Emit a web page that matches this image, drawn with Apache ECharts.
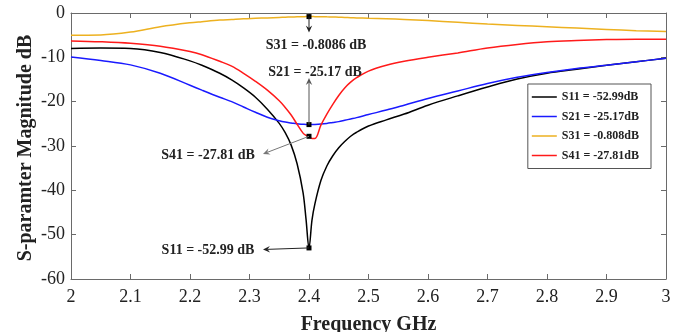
<!DOCTYPE html>
<html>
<head>
<meta charset="utf-8">
<script src="https://cdn.jsdelivr.net/npm/echarts@6/dist/echarts.min.js"></script>
<style>
html,body{margin:0;padding:0;background:#fff;}
#c{width:678px;height:332px;}
</style>
</head>
<body>
<div id="c"></div>
<script>
// ---- data ----
var freq = [2.00, 2.05, 2.10, 2.15, 2.20, 2.22, 2.25, 2.27, 2.29, 2.31, 2.33, 2.35, 2.36, 2.37, 2.38, 2.39, 2.395, 2.40, 2.405, 2.41, 2.42, 2.43, 2.44, 2.45, 2.46, 2.47, 2.48, 2.50, 2.53, 2.56, 2.60, 2.65, 2.70, 2.75, 2.80, 2.85, 2.90, 2.95, 3.00];
var s11 = [-8.0, -7.9, -8.0, -8.9, -10.8, -11.8, -13.6, -15.1, -16.9, -19.0, -21.7, -24.9, -27.0, -29.8, -34.0, -40.5, -46.5, -52.99, -46.7, -43.0, -37.8, -34.5, -32.2, -30.4, -29.0, -27.8, -26.9, -25.5, -24.1, -22.8, -20.8, -18.7, -16.7, -14.9, -13.6, -12.7, -11.8, -11.0, -10.2];
var s21 = [-9.9, -10.7, -11.7, -13.6, -16.3, -17.4, -19.0, -20.0, -21.2, -22.4, -23.5, -24.3, -24.6, -24.8, -25.0, -25.1, -25.15, -25.17, -25.17, -25.15, -25.05, -24.9, -24.7, -24.5, -24.2, -23.9, -23.6, -22.9, -21.9, -20.8, -19.3, -17.6, -15.9, -14.5, -13.4, -12.5, -11.8, -11.0, -10.2];
var s31 = [-5.0, -4.95, -4.3, -3.1, -2.2, -1.95, -1.6, -1.45, -1.3, -1.2, -1.1, -1.0, -0.95, -0.9, -0.86, -0.83, -0.815, -0.8086, -0.815, -0.82, -0.84, -0.87, -0.9, -0.95, -1.0, -1.05, -1.1, -1.2, -1.3, -1.45, -1.7, -2.1, -2.5, -2.8, -3.1, -3.4, -3.7, -4.0, -4.2];
var s41 = [-6.3, -6.5, -6.85, -7.5, -8.7, -9.4, -10.9, -12.0, -13.6, -15.4, -17.4, -19.8, -21.3, -23.0, -25.1, -27.1, -27.6, -27.81, -28.3, -28.3, -25.3, -22.8, -20.6, -18.6, -16.9, -15.6, -14.6, -13.1, -11.8, -10.9, -10.0, -9.0, -7.9, -7.1, -6.5, -6.2, -6.0, -5.9, -5.9];
var seriesNames = ['S11 = -52.99dB', 'S21 = -25.17dB', 'S31 = -0.808dB', 'S41 = -27.81dB'];
var xTicks = [2, 2.1, 2.2, 2.3, 2.4, 2.5, 2.6, 2.7, 2.8, 2.9, 3];
var yTicks = [-60, -50, -40, -30, -20, -10, 0];
var markFreq = 2.4;
var markVals = [-52.99, -25.17, -0.8086, -27.81];
var markTexts = ['S11 = -52.99 dB', 'S21 = -25.17 dB', 'S31 = -0.8086 dB', 'S41 = -27.81 dB'];
var xTitle = 'Frequency GHz';
var yTitle = 'S-paramter Magnitude dB';

var colors = ['#000000', '#1a1aff', '#EDB120', '#ff1a1a'];
var vals = [s11, s21, s31, s41];
var FONT = 'Liberation Serif';

function pairs(v) { return freq.map(function (f, i) { return [f, v[i]]; }); }

var chart = echarts.init(document.getElementById('c'));
var axisCol = '#6a6a6a';
function xAx(pos, labels) {
  return {
    type: 'value', position: pos, min: xTicks[0], max: xTicks[xTicks.length - 1], interval: 0.1,
    axisLine: { show: true, onZero: false, lineStyle: { color: axisCol, width: 1 } },
    axisTick: { show: true, inside: true, length: 5, lineStyle: { color: axisCol } },
    axisLabel: { show: labels, color: '#222', fontFamily: FONT, fontSize: 18, margin: 9,
      formatter: function (v) { return String(Math.round(v * 10) / 10); } },
    splitLine: { show: false },
    name: labels ? xTitle : '', nameLocation: 'middle', nameGap: 36,
    nameTextStyle: { fontFamily: FONT, fontSize: 20, fontWeight: 'bold', color: '#222' }
  };
}
function yAx(pos, labels) {
  return {
    type: 'value', position: pos, min: yTicks[0], max: yTicks[yTicks.length - 1], interval: 10,
    axisLine: { show: true, onZero: false, lineStyle: { color: axisCol, width: 1 } },
    axisTick: { show: true, inside: true, length: 5, lineStyle: { color: axisCol } },
    axisLabel: { show: labels, color: '#222', fontFamily: FONT, fontSize: 18, margin: 6 },
    splitLine: { show: false }
  };
}

var series = vals.map(function (v, i) {
  return {
    name: seriesNames[i], type: 'line', data: pairs(v), showSymbol: false, smooth: 0.35,
    lineStyle: { color: colors[i], width: 1.5 }, itemStyle: { color: colors[i] },
    xAxisIndex: 0, yAxisIndex: 0, animation: false,
    markPoint: {
      symbol: 'rect', symbolSize: 5, silent: true, animation: false,
      itemStyle: { color: '#000' }, label: { show: false },
      data: [{ coord: [markFreq, markVals[i]] }]
    }
  };
});

chart.setOption({
  animation: false,
  grid: { left: 71, right: 12, top: 13, bottom: 53, containLabel: false, outerBoundsMode: 'none' },
  xAxis: [xAx('bottom', true), xAx('top', false)],
  yAxis: [yAx('left', true), yAx('right', false)],
  legend: {
    orient: 'vertical', right: 27, top: 84,
    backgroundColor: '#fff', borderColor: '#555', borderWidth: 1,
    padding: [7, 12, 7, 4], itemGap: 7.5, itemWidth: 25, itemHeight: 12,
    textStyle: { fontFamily: FONT, fontSize: 12, fontWeight: 'bold', color: '#222' },
    data: seriesNames.map(function (n) { return { name: n, icon: 'path://M0,0 L25,0 L25,1.5 L0,1.5 Z' }; })
  },
  series: series
});

// annotations: arrows from the marked points to the text
function arrow(p0, p1, col) {
  var dx = p1[0] - p0[0], dy = p1[1] - p0[1], L = Math.sqrt(dx * dx + dy * dy);
  var ux = dx / L, uy = dy / L, nx = -uy, ny = ux;
  var hl = 7, hw = 3.2;
  var back = [p1[0] - (hl - 2.5) * ux, p1[1] - (hl - 2.5) * uy];
  return [
    { type: 'line', silent: true, z: 50, shape: { x1: p0[0], y1: p0[1], x2: back[0], y2: back[1] }, style: { stroke: col, lineWidth: 1 } },
    { type: 'polygon', silent: true, z: 50, shape: { points: [
      [p1[0], p1[1]],
      [p1[0] - hl * ux + hw * nx, p1[1] - hl * uy + hw * ny],
      back,
      [p1[0] - hl * ux - hw * nx, p1[1] - hl * uy - hw * ny]
    ] }, style: { fill: col } }
  ];
}
function txt(s, x, y, align) {
  return { type: 'text', silent: true, z: 50, x: x, y: y,
    style: { text: s, fontFamily: FONT, fontSize: 14, fontWeight: 'bold', fill: '#222', align: align || 'center', verticalAlign: 'middle' } };
}
var P = markVals.map(function (v) { return chart.convertToPixel({ xAxisIndex: 0, yAxisIndex: 0 }, [markFreq, v]); });
var g = [];
// S31 (down arrow)
g = g.concat(arrow(P[2], [P[2][0], P[2][1] + 16], '#222'));
g.push(txt(markTexts[2], P[2][0] + 7, 45.5));
// S21 (up arrow)
g = g.concat(arrow(P[1], [P[1][0], 78], '#555'));
g.push(txt(markTexts[1], P[1][0] + 6, 72.5));
// S41 (to the left)
g = g.concat(arrow(P[3], [263, 154], '#777'));
g.push(txt(markTexts[3], 208, 155));
// S11 (to the left)
g = g.concat(arrow(P[0], [263, 249.5], '#222'));
g.push(txt(markTexts[0], 208, 250));
// y-axis title
g.push({ type: 'text', silent: true, z: 50, x: 26, y: 148, rotation: Math.PI / 2,
  style: { text: yTitle, fontFamily: FONT, fontSize: 20, fontWeight: 'bold', fill: '#222', align: 'center', verticalAlign: 'middle' } });
chart.setOption({ graphic: g });
</script>
</body>
</html>
